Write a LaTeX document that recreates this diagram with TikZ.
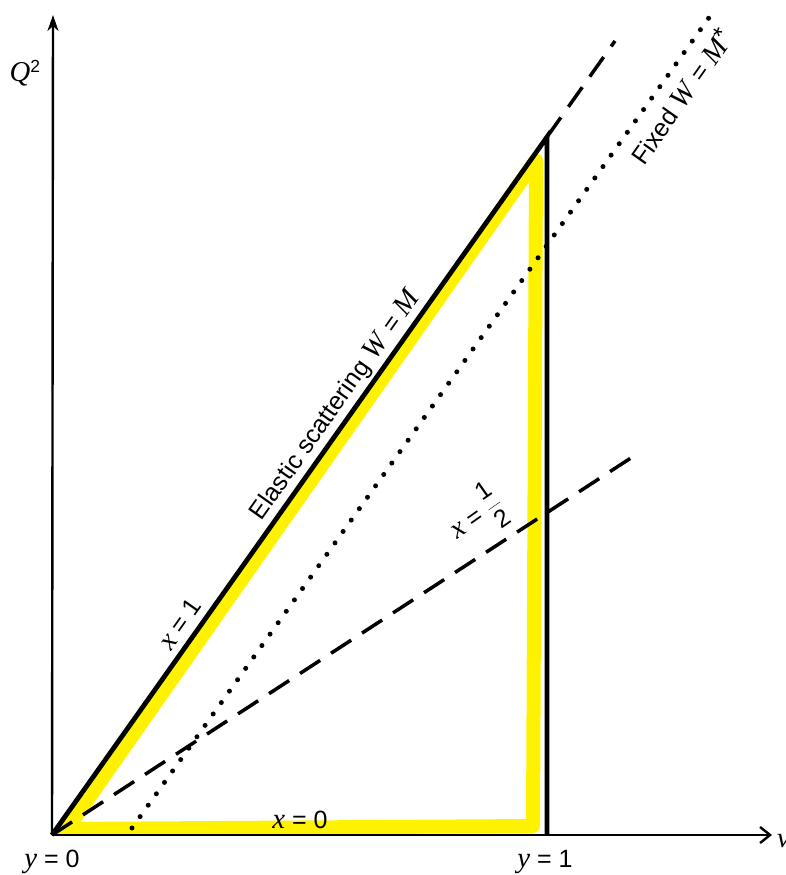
\documentclass[tikz,border=0pt]{standalone}
\usepackage{fontspec}
\setmainfont{Liberation Sans}
\newfontfamily\varfont[Scale=1.15]{Liberation Serif}
\newcommand{\vv}[1]{{\varfont\itshape #1\/}}
\usetikzlibrary{arrows.meta}
\begin{document}
\begin{tikzpicture}[x=1pt,y=-1pt,
  lbl/.style={font=\fontsize{25}{29}\selectfont, inner sep=1pt},
  axis/.style={line width=2.4pt},
  edge/.style={line width=4.8pt},
  longdash/.style={line width=3.5pt, dash pattern=on 24pt off 13pt},
  dots/.style={line width=5pt, line cap=round, dash pattern=on 0pt off 14pt},
  hilite/.style={draw=yellow, line width=14pt, line join=round, line cap=round}]
\useasboundingbox (0,0) rectangle (785,875);
% coordinates
\coordinate (O) at (52,835);
\coordinate (A) at (547,137);
\coordinate (B) at (547,835);
\coordinate (E) at (615,41);
\coordinate (Ytop) at (53,15);
\coordinate (Xend) at (772,835);
\coordinate (D1) at (132,828);
\coordinate (D2) at (713,12);
\coordinate (H) at (637,454);
% yellow highlight
\draw[hilite] (62,829) -- (533,826) -- (536,160) -- (72,822) -- cycle;
% axes
\draw[axis, -{Stealth[length=16pt,width=11pt,inset=5pt]}] (O) -- (Ytop);
\draw[axis, -{Straight Barb[length=10pt,width=16pt]}] (O) -- (Xend);
% triangle
\draw[edge, line join=miter] (O) -- (A) -- (B);
% extensions
\draw[longdash] (A) -- (E);
\draw[longdash] (O) -- (H);
\draw[dots] (D1) -- (D2);
% labels
\node[lbl] (q2) at (25,73) {\vv{Q}\textsuperscript{2}};
\node[lbl, anchor=west] (nu) at (776,841) {\vv{ν}};
\node[lbl] (y0) at (52,862) {\vv{y} = 0};
\node[lbl] (y1) at (545,862) {\vv{y} = 1};
\node[lbl] (x0) at (300,820) {\vv{x} = 0};
\node[lbl, rotate=54.7] (x1) at (180,624) {\vv{x} = 1};
\node[lbl, rotate=54.7] (el) at (336,405) {Elastic scattering \vv{W} = \vv{M}};
\node[lbl, rotate=35] (xh) at (476,516) {\vv{x} = $\displaystyle\frac{\mbox{1}}{\mbox{2}}$};
\node[lbl, rotate=54.7] (fw) at (681,96) {Fixed \vv{W} = \vv{M}\raisebox{0.35ex}{*}};
\end{tikzpicture}
\end{document}
